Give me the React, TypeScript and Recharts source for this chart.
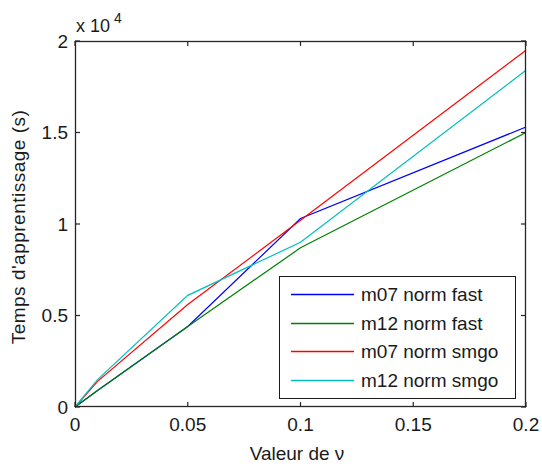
import React from "react";
import { LineChart, Line, XAxis, YAxis, Legend } from "recharts";

// valeurs de nu (axe x)
const nu = [0, 0.01, 0.05, 0.1, 0.2];

// temps d'apprentissage en secondes
const m07Fast = [0, 900, 4400, 10300, 15300];
const m12Fast = [0, 900, 4400, 8700, 15000];
const m07Smgo = [0, 1400, 5600, 10200, 19500];
const m12Smgo = [0, 1500, 6100, 9000, 18400];

const xTicks = [0, 0.05, 0.1, 0.15, 0.2];
const yTicks = [0, 5000, 10000, 15000, 20000];

const series = [
  { key: "m07Fast", name: "m07 norm fast", color: "#0000ff" },
  { key: "m12Fast", name: "m12 norm fast", color: "#008000" },
  { key: "m07Smgo", name: "m07 norm smgo", color: "#ff0000" },
  { key: "m12Smgo", name: "m12 norm smgo", color: "#00bfbf" },
];

const data = nu.map((x, i) => ({
  x,
  m07Fast: m07Fast[i],
  m12Fast: m12Fast[i],
  m07Smgo: m07Smgo[i],
  m12Smgo: m12Smgo[i],
}));

const FONT = "'Liberation Sans', Arial, Helvetica, sans-serif";
const AXIS = "#262626";
const TXT = "#1a1a1a";
const TICK = 5;

// plot box (margins + axis sizes below)
const TOP = 41;
const LEFT = 75;
const RIGHT = 526;
const BOTTOM = 407;

// matlab style: ticks point inward, on all four sides
const BottomTick = (p: any) => (
  <g>
    <line x1={p.x} x2={p.x} y1={BOTTOM} y2={BOTTOM - TICK} stroke={AXIS} strokeWidth={1.2} />
    <line x1={p.x} x2={p.x} y1={TOP} y2={TOP + TICK} stroke={AXIS} strokeWidth={1.2} />
    <text x={p.x} y={p.y} dy="0.71em" textAnchor="middle" fontFamily={FONT} fontSize={19} fill={TXT}>
      {String(p.payload.value)}
    </text>
  </g>
);

const LeftTick = (p: any) => (
  <g>
    <line x1={LEFT} x2={LEFT + TICK} y1={p.y} y2={p.y} stroke={AXIS} strokeWidth={1.2} />
    <line x1={RIGHT} x2={RIGHT - TICK} y1={p.y} y2={p.y} stroke={AXIS} strokeWidth={1.2} />
    <text x={p.x} y={p.y} dy="0.35em" textAnchor="end" fontFamily={FONT} fontSize={19} fill={TXT}>
      {String(p.payload.value / 10000)}
    </text>
  </g>
);

function renderLegend() {
  return (
    <svg width={237} height={123} style={{ display: "block" }}>
      <rect x={0.5} y={0.5} width={236} height={122} fill="#fff" stroke={TXT} />
      {series.map((s, i) => {
        const y = Math.round(18 + i * 28.7) + 0.5;
        return (
          <g key={s.key}>
            <line x1={12} x2={75} y1={y} y2={y} stroke={s.color} strokeWidth={1.3} />
            <text x={82} y={y} dy="0.35em" fontFamily={FONT} fontSize={19} fill={TXT}>
              {s.name}
            </text>
          </g>
        );
      })}
    </svg>
  );
}

export default function App() {
  return (
    <div
      style={{
        position: "absolute",
        left: 0,
        top: 0,
        width: 542,
        height: 467,
        background: "#fff",
      }}
    >
      <LineChart
        width={542}
        height={467}
        data={data}
        margin={{ top: TOP, right: 542 - RIGHT, bottom: 0, left: 0 }}
      >
        <XAxis
          dataKey="x"
          type="number"
          domain={[0, 0.2]}
          ticks={xTicks}
          height={467 - BOTTOM}
          tickSize={0}
          tickMargin={11}
          tickLine={false}
          axisLine={false}
          tick={<BottomTick />}
        />
        <YAxis
          type="number"
          domain={[0, 20000]}
          ticks={yTicks}
          width={LEFT}
          tickSize={0}
          tickMargin={7}
          tickLine={false}
          axisLine={false}
          tick={<LeftTick />}
        />
        {series.map((s) => (
          <Line
            key={s.key}
            type="linear"
            dataKey={s.key}
            name={s.name}
            stroke={s.color}
            strokeWidth={1.2}
            dot={false}
            isAnimationActive={false}
          />
        ))}
        <Legend
          layout="vertical"
          align="center"
          verticalAlign="middle"
          content={renderLegend}
          wrapperStyle={{ position: "absolute", left: 279, top: 276, width: 237, height: 123 }}
        />
      </LineChart>
      <svg
        width={542}
        height={467}
        style={{ position: "absolute", left: 0, top: 0, pointerEvents: "none" }}
      >
        <rect
          x={LEFT + 0.5}
          y={TOP + 0.5}
          width={RIGHT - LEFT - 1}
          height={BOTTOM - TOP - 1}
          fill="none"
          stroke={AXIS}
          strokeWidth={1.3}
        />
        <text x={76} y={32} fontFamily={FONT} fontSize={18} fill={TXT}>
          x 10
        </text>
        <text x={114} y={23} fontFamily={FONT} fontSize={14} fill={TXT}>
          4
        </text>
        <text x={297} y={460} textAnchor="middle" fontFamily={FONT} fontSize={19} fill={TXT}>
          Valeur de ν
        </text>
        <text
          transform="translate(25, 227) rotate(-90)"
          textAnchor="middle"
          fontFamily={FONT}
          fontSize={19}
          letterSpacing={0.5}
          fill={TXT}
        >
          Temps d'apprentissage (s)
        </text>
      </svg>
    </div>
  );
}
